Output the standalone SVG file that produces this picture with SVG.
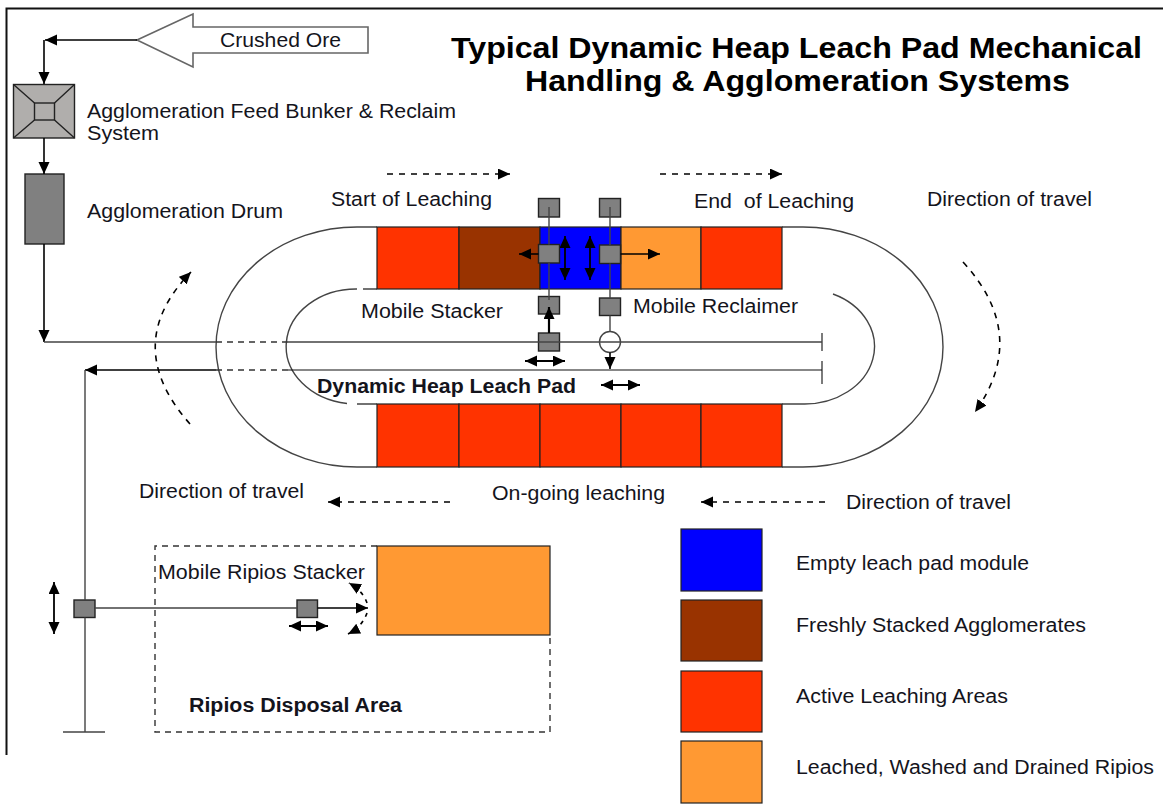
<svg xmlns="http://www.w3.org/2000/svg" width="1163" height="808" viewBox="0 0 1163 808">
<defs>
<marker id="a" markerUnits="userSpaceOnUse" markerWidth="14" markerHeight="12" refX="12" refY="5.500" orient="auto-start-reverse"><path d="M0 0L12 5.500L0 11z" fill="#000"/></marker>
</defs>
<style>
text{font-family:"Liberation Sans",Arial,sans-serif;font-size:20px;fill:#14141c}
.b{font-weight:bold}
.t{font-weight:bold;font-size:30px;fill:#000}
.l{fill:none;stroke:#444;stroke-width:1.4}
.k{fill:none;stroke:#111;stroke-width:1.200}
.ar{fill:none;stroke:#000;stroke-width:1.600;marker-end:url(#a)}
.dbl{fill:none;stroke:#000;stroke-width:1.800;marker-start:url(#a);marker-end:url(#a)}
.da{fill:none;stroke:#000;stroke-width:1.600;stroke-dasharray:6 6;marker-end:url(#a)}
.ds{fill:none;stroke:#333;stroke-width:1.4;stroke-dasharray:6 5}
.g{fill:#808080;stroke:#222;stroke-width:1.4}
.m{stroke:#222;stroke-width:1.2}
.red{fill:#FF3300}.brn{fill:#993300}.blu{fill:#0000FF}.org{fill:#FF9933}
</style>
<rect width="1163" height="808" fill="#fff"/>
<path d="M6.500 755V8.500H1163" fill="none" stroke="#111" stroke-width="2"/>

<g id="title">
<text class="t" x="451" y="58" textLength="691" lengthAdjust="spacingAndGlyphs">Typical Dynamic Heap Leach Pad Mechanical</text>
<text class="t" x="525" y="91" textLength="545" lengthAdjust="spacingAndGlyphs">Handling &amp; Agglomeration Systems</text>
</g>

<g id="track">
<path class="l" d="M377 227H357A141 120 0 0 0 357 467H377M782 227H803A140 120 0 0 1 803 467H782"/>
<path class="l" d="M363 289H377M357 289A70 57.500 0 0 0 347 403.500M357 404H377M782 404H803A70 57.500 0 0 0 833 294"/>
</g>

<g id="modules-top">
<rect class="m red" x="377" y="227" width="82" height="62"/>
<rect class="m brn" x="459" y="227" width="81" height="62"/>
<rect class="m blu" x="540" y="227" width="81" height="62"/>
<rect class="m org" x="621" y="227" width="80" height="62"/>
<rect class="m red" x="701" y="227" width="81" height="62"/>
</g>
<g id="modules-bottom">
<rect class="m red" x="377" y="404" width="82" height="63"/>
<rect class="m red" x="459" y="404" width="81" height="63"/>
<rect class="m red" x="540" y="404" width="81" height="63"/>
<rect class="m red" x="621" y="404" width="80" height="63"/>
<rect class="m red" x="701" y="404" width="81" height="63"/>
</g>

<g id="crushed-ore">
<path d="M137 40L193 14V27H368V53H193V67Z" fill="#fff" stroke="#666" stroke-width="1.6"/>
<text x="220" y="47" textLength="121" lengthAdjust="spacingAndGlyphs">Crushed Ore</text>
</g>

<g id="feed-bunker">
<rect x="13.500" y="84.500" width="61" height="53.500" fill="#b0aeac" stroke="#222" stroke-width="1.4"/>
<rect x="34.500" y="103" width="20" height="17" fill="none" stroke="#222" stroke-width="1.4"/>
<path d="M13.500 84.500L34.500 103M74.500 84.500L54.500 103M13.500 138L34.500 120M74.500 138L54.500 120" stroke="#222" stroke-width="1.4"/>
<text x="87" y="118" textLength="369" lengthAdjust="spacingAndGlyphs">Agglomeration Feed Bunker &amp; Reclaim</text>
<text x="87" y="140" textLength="72" lengthAdjust="spacingAndGlyphs">System</text>
</g>

<g id="drum">
<rect class="g" x="25" y="174" width="39" height="70"/>
<text x="87" y="218" textLength="196" lengthAdjust="spacingAndGlyphs">Agglomeration Drum</text>
</g>

<g id="mobile-stacker">
<rect class="g" x="538.500" y="198.500" width="21" height="18.500"/>
<rect class="g" x="538.500" y="244.500" width="21" height="18.500"/>
<rect class="g" x="538.500" y="296.500" width="21" height="17.500"/>
<rect class="g" x="538.500" y="333" width="21" height="18"/>
<text x="361" y="318" textLength="142" lengthAdjust="spacingAndGlyphs">Mobile Stacker</text>
</g>

<g id="mobile-reclaimer">
<rect class="g" x="599.500" y="198.500" width="21" height="18.500"/>
<rect class="g" x="599.500" y="245" width="21" height="18.500"/>
<rect class="g" x="599.500" y="298" width="21" height="17.500"/>
<circle cx="610" cy="342" r="10.500" fill="#fff" stroke="#444" stroke-width="1.4"/>
<text x="633" y="313" textLength="165" lengthAdjust="spacingAndGlyphs">Mobile Reclaimer</text>
</g>

<g id="transfer-carriage"><rect class="g" x="74" y="600" width="21" height="17.500"/></g>
<g id="ripios-stacker">
<rect class="g" x="297" y="600" width="20.500" height="17.500"/>
<text x="158" y="579" textLength="207" lengthAdjust="spacingAndGlyphs">Mobile Ripios Stacker</text>
</g>

<g id="ripios-area">
<path class="ds" d="M377 546H155V732H550V635"/>
<rect class="m org" x="377" y="546" width="173" height="89"/>
<text class="b" x="189" y="712" textLength="213" lengthAdjust="spacingAndGlyphs">Ripios Disposal Area</text>
</g>

<g id="labels">
<text class="b" x="317" y="393" textLength="259" lengthAdjust="spacingAndGlyphs">Dynamic Heap Leach Pad</text>
<text x="331" y="206" textLength="161" lengthAdjust="spacingAndGlyphs">Start of Leaching</text>
<text x="694" y="208" textLength="160" lengthAdjust="spacingAndGlyphs" xml:space="preserve">End  of Leaching</text>
<text x="927" y="206" textLength="165" lengthAdjust="spacingAndGlyphs">Direction of travel</text>
<text x="139" y="498" textLength="165" lengthAdjust="spacingAndGlyphs">Direction of travel</text>
<text x="492" y="500" textLength="173" lengthAdjust="spacingAndGlyphs">On-going leaching</text>
<text x="846" y="509" textLength="165" lengthAdjust="spacingAndGlyphs">Direction of travel</text>
</g>

<g id="legend">
<rect class="m blu" x="681" y="529" width="81" height="62"/>
<text x="796" y="570" textLength="233" lengthAdjust="spacingAndGlyphs">Empty leach pad module</text>
<rect class="m brn" x="681" y="600" width="81" height="61"/>
<text x="796" y="632" textLength="290" lengthAdjust="spacingAndGlyphs">Freshly Stacked Agglomerates</text>
<rect class="m red" x="681" y="671" width="81" height="61"/>
<text x="796" y="703" textLength="212" lengthAdjust="spacingAndGlyphs">Active Leaching Areas</text>
<rect class="m org" x="681" y="741" width="81" height="62"/>
<text x="796" y="774" textLength="358" lengthAdjust="spacingAndGlyphs">Leached, Washed and Drained Ripios</text>
</g>

<g id="connectors">
<path class="ar" d="M137 40H45"/>
<path class="ar" d="M44 40V84"/>
<path class="ar" d="M44 138V174"/>
<path class="ar" d="M44 244V342"/>
<path class="l" d="M44 342H216M288 342H822"/>
<path class="l" d="M822 333V351M822 361V384"/>
<path class="ds" d="M216 342H288M216 370H288"/>
<path class="k" d="M288 370H822"/>
<path class="ar" d="M216 370H85"/>
<path class="l" d="M85 370V600M85 617.500V732M63 732H105M95 608H297"/>
<path class="l" d="M549 207V244.500M549 263V300M610 207V245M610 263.500V298M610 315.500V331.500"/>
<path class="ar" d="M549 333V307" style="stroke-width:2.200"/>
<path class="ar" d="M610 352.500V369"/>
<path class="dbl" d="M525 361H565"/>
<path class="dbl" d="M601 385H640"/>
<path class="dbl" d="M565 236V280"/>
<path class="dbl" d="M590 236V280"/>
<path class="ar" d="M538.500 254H519"/>
<path class="ar" d="M620.500 254H660"/>
<path class="dbl" d="M54 582V634"/>
<path class="dbl" d="M289 626H328"/>
<path class="ar" d="M317.500 608H368"/>
<path class="da" style="stroke-dasharray:4 5" d="M367 603Q363 591 349 583"/>
<path class="da" style="stroke-dasharray:4 5" d="M367 613Q362 627 348 634"/>
<path class="da" d="M387 174H510"/>
<path class="da" d="M660 174H782"/>
<path class="da" d="M450 502H328"/>
<path class="da" d="M825 502H701"/>
<path class="da" d="M190 424Q120 345 191 272"/>
<path class="da" d="M963 262Q1030 335 975 412"/>
</g>
</svg>
